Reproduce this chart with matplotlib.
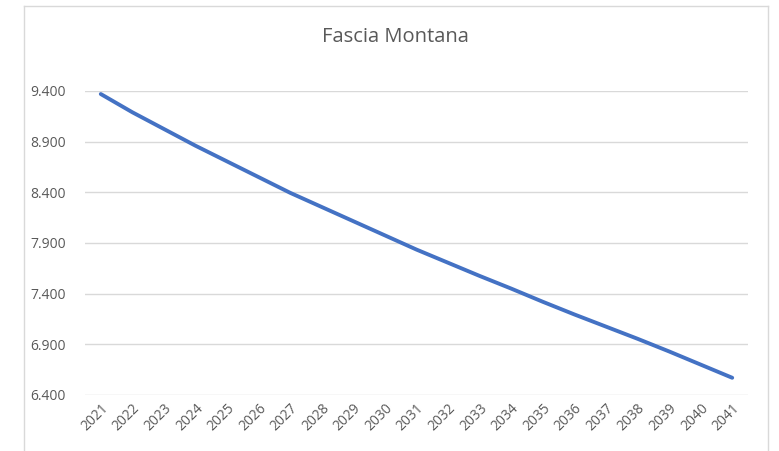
import matplotlib
matplotlib.use('Agg')
import matplotlib.pyplot as plt
from matplotlib.lines import Line2D

# data
years = [str(y) for y in range(2021, 2042)]
values = [9370, 9190, 9025, 8860, 8705, 8550, 8395, 8255, 8115, 7975,
          7835, 7705, 7575, 7450, 7320, 7195, 7075, 6955, 6830, 6700, 6570]
yticks = [6400, 6900, 7400, 7900, 8400, 8900, 9400]
title = 'Fascia Montana'

W, H = 779, 451
fig = plt.figure(figsize=(W / 100, H / 100), dpi=100)
plt.rcParams['font.family'] = ['Open Sans', 'DejaVu Sans']

# plot area in pixel coords: x 85..748, y 91..395
ax = fig.add_axes([85 / W, 1 - 395 / H, (748 - 85) / W, (395 - 91) / H])
x = list(range(len(years)))
ax.plot(x, values, color='#4472C4', lw=2.8, solid_capstyle='round', zorder=3)

ax.set_xlim(-0.5, len(years) - 0.5)
ax.set_ylim(6400, 9400)
ax.set_yticks(yticks)
ax.set_yticklabels([f"{v:,.0f}".replace(',', '.') for v in yticks])
ax.set_xticks(x)
ax.set_xticklabels(years, rotation=45, ha='right', rotation_mode='anchor')
ax.tick_params(length=0, colors='#595959', labelsize=10)
ax.tick_params(axis='y', pad=14)
ax.tick_params(axis='x', pad=4)
ax.grid(axis='y', color='#D9D9D9', lw=1)
ax.set_axisbelow(True)
for s in ax.spines.values():
    s.set_visible(False)

fig.text(395 / W, 1 - 37 / H, title, ha='center', va='center',
         fontsize=14.5, color='#595959')

# chart border (light gray frame)
fx = lambda p: p / W
fy = lambda p: 1 - p / H
bc = '#D9D9D9'
fig.add_artist(Line2D([fx(24), fx(24)], [fy(6), 0], color=bc, lw=1))
fig.add_artist(Line2D([fx(768), fx(768)], [fy(6), 0], color=bc, lw=1))
fig.add_artist(Line2D([fx(24), fx(768)], [fy(6), fy(6)], color=bc, lw=1))

fig.savefig('out.png', dpi=100)
